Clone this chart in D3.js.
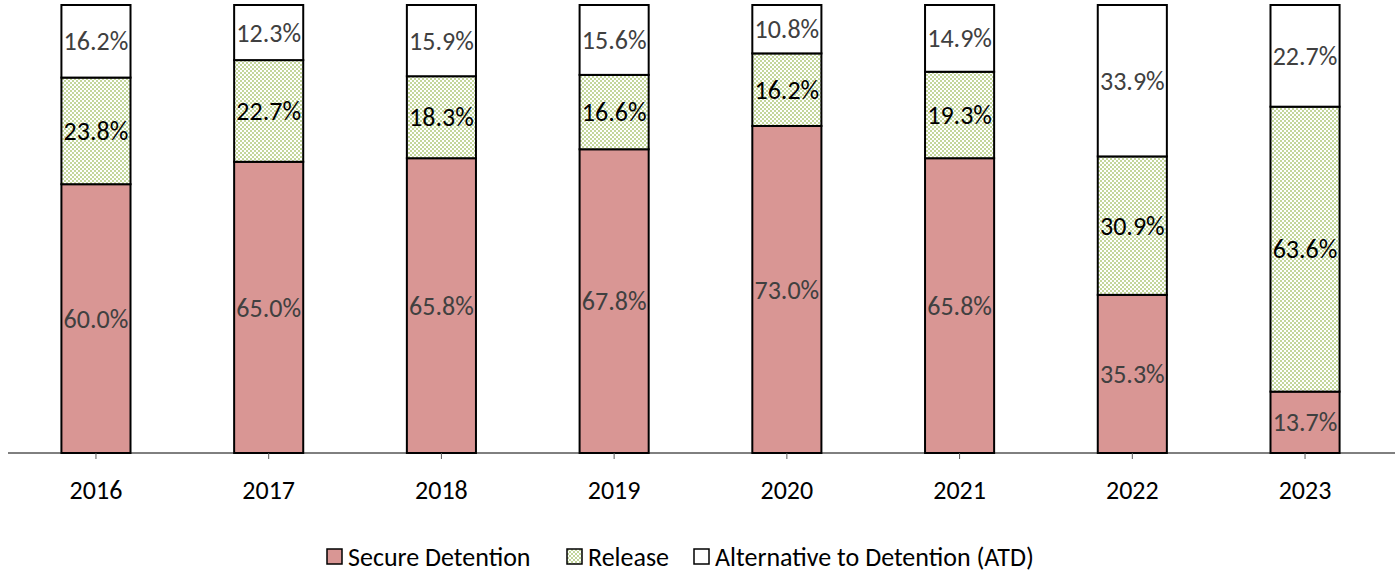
<!DOCTYPE html>
<html>
<head>
<meta charset="utf-8">
<script src="https://cdn.jsdelivr.net/npm/d3@7"></script>
<style>
  body { margin: 0; background: #fff; }
</style>
</head>
<body>
<div id="chart"></div>
<script>
var width = 1400, height = 573

// data
const years = ["2016", "2017", "2018", "2019", "2020", "2021", "2022", "2023"]
const secureDetention = [60.0, 65.0, 65.8, 67.8, 73.0, 65.8, 35.3, 13.7]
const release = [23.8, 22.7, 18.3, 16.6, 16.2, 19.3, 30.9, 63.6]
const atd = [16.2, 12.3, 15.9, 15.6, 10.8, 14.9, 33.9, 22.7]
const seriesNames = ["Secure Detention", "Release", "Alternative to Detention (ATD)"]

const rows = years.map((y, i) => ({
	year: y,
	"Secure Detention": secureDetention[i],
	"Release": release[i],
	"Alternative to Detention (ATD)": atd[i]
}))

const svg = d3.select('#chart')
	.append('svg')
	.attr('width', width)
	.attr('height', height)
	.style('font-family', 'Carlito, Calibri, "Liberation Sans", sans-serif')

// checker pattern for Release
const defs = svg.append('defs')
const pat = defs.append('pattern')
	.attr('id', 'checker')
	.attr('width', 4).attr('height', 4)
	.attr('patternUnits', 'userSpaceOnUse')
pat.append('rect').attr('width', 4).attr('height', 4).attr('fill', '#ffffff')
pat.append('rect').attr('width', 2).attr('height', 2).attr('fill', '#c3d69b')
pat.append('rect').attr('x', 2).attr('y', 2).attr('width', 2).attr('height', 2).attr('fill', '#c3d69b')

const fills = {
	"Secure Detention": '#d99694',
	"Release": 'url(#checker)',
	"Alternative to Detention (ATD)": '#ffffff'
}
const labelColors = {
	"Secure Detention": '#404040',
	"Release": '#000000',
	"Alternative to Detention (ATD)": '#404040'
}

const x = d3.scaleBand()
	.domain(years)
	.range([9.6, 1391.4])
	.paddingInner(0.6)
	.paddingOuter(0.3)

const y = d3.scaleLinear()
	.domain([0, 100])
	.range([453, 5])

const stack = d3.stack().keys(seriesNames)
const layers = stack(rows)

const g = svg.append('g')

const layer = g.selectAll('g.layer')
	.data(layers)
	.join('g')
	.attr('class', 'layer')

layer.selectAll('rect')
	.data(d => d.map(p => Object.assign({}, p, { key: d.key })))
	.join('rect')
	.attr('x', d => x(d.data.year))
	.attr('width', x.bandwidth())
	.attr('y', d => y(Math.min(d[1], 100)))
	.attr('height', d => y(d[0]) - y(Math.min(d[1], 100)))
	.attr('fill', d => fills[d.key])
	.attr('stroke', '#000')
	.attr('stroke-width', 2)

layer.selectAll('text')
	.data(d => d.map(p => Object.assign({}, p, { key: d.key })))
	.join('text')
	.attr('x', d => x(d.data.year) + x.bandwidth() / 2)
	.attr('y', d => (y(d[0]) + y(Math.min(d[1], 100))) / 2)
	.attr('dy', '0.35em')
	.attr('text-anchor', 'middle')
	.attr('fill', d => labelColors[d.key])
	.style('font-size', '26px')
	.text(d => d.data[d.key].toFixed(1) + '%')

// x axis
const axis = svg.append('g')
	.attr('transform', `translate(0,${y(0)})`)
axis.append('line')
	.attr('x1', 8).attr('x2', 1395)
	.attr('stroke', '#000').attr('stroke-width', 1)
axis.selectAll('line.tick')
	.data(years)
	.join('line')
	.attr('class', 'tick')
	.attr('x1', d => x(d) + x.bandwidth() / 2)
	.attr('x2', d => x(d) + x.bandwidth() / 2)
	.attr('y1', 0).attr('y2', 6)
	.attr('stroke', '#595959')
axis.selectAll('text')
	.data(years)
	.join('text')
	.attr('x', d => x(d) + x.bandwidth() / 2)
	.attr('y', 37)
	.attr('dy', '0.35em')
	.attr('text-anchor', 'middle')
	.style('font-size', '26px')
	.attr('fill', '#000')
	.text(d => d)

// legend
const legendItems = [
	{ name: seriesNames[0], x: 327 },
	{ name: seriesNames[1], x: 567 },
	{ name: seriesNames[2], x: 694 }
]
const legend = svg.append('g')
const li = legend.selectAll('g')
	.data(legendItems)
	.join('g')
	.attr('transform', d => `translate(${d.x},549)`)
li.append('rect')
	.attr('width', 15).attr('height', 15)
	.attr('fill', d => fills[d.name])
	.attr('stroke', '#000').attr('stroke-width', 1.5)
li.append('text')
	.attr('x', 21)
	.attr('y', 8)
	.attr('dy', '0.35em')
	.style('font-size', '26px')
	.attr('fill', '#000')
	.text(d => d.name)
</script>
</body>
</html>
